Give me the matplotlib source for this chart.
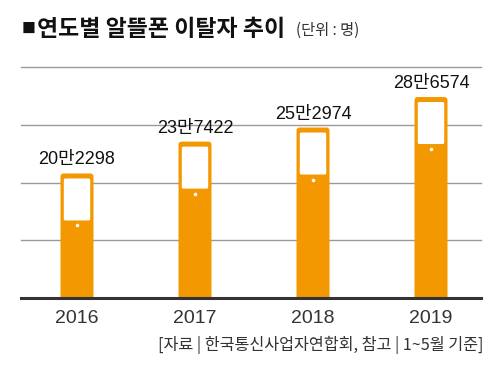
import matplotlib
matplotlib.use('Agg')
import matplotlib.pyplot as plt
from matplotlib.patches import FancyBboxPatch

plt.rcParams['font.family'] = ['Noto Sans CJK KR', 'DejaVu Sans']

# ---- data ----
years = ['2016', '2017', '2018', '2019']
values = [202298, 237422, 252974, 286574]
value_labels = ['20만2298', '23만7422', '25만2974', '28만6574']
title = '연도별 알뜰폰 이탈자 추이'
unit = '(단위 : 명)'
source = '[자료 | 한국통신사업자연합회, 참고 | 1~5월 기준]'

# ---- layout ----
W, H = 500, 370
fig = plt.figure(figsize=(W / 100, H / 100), dpi=100)
ax_l, ax_r, ax_t, ax_b = 21, 481, 67, 298
ax = fig.add_axes([ax_l / W, 1 - ax_b / H, (ax_r - ax_l) / W, (ax_b - ax_t) / H])

ymin, ymax = 65000, 319700
x0, x1 = -0.4746, 3.4237
ax.set_ylim(ymin, ymax)
ax.set_xlim(x0, x1)
px_y = (ymax - ymin) / (ax_b - ax_t)
px_x = (x1 - x0) / (ax_r - ax_l)

orange = '#F39800'
num_font = ['Liberation Sans', 'Noto Sans CJK KR']

for s in ax.spines.values():
    s.set_visible(False)
ax.set_yticks([])

# grid lines
for k in range(1, 5):
    ax.axhline(ymin + k * (ymax - ymin) / 4, color='#9a9a9a', lw=1.0, zorder=1, clip_on=False)
ax.axhline(ymin, color='#333333', lw=2.2, zorder=5, clip_on=False)

bw = 33 * px_x
for i, v in enumerate(values):
    body = FancyBboxPatch((i - bw / 2, ymin - 10 * px_y), bw, v - ymin + 10 * px_y,
                          boxstyle=f'round,pad=0,rounding_size={3 * px_x}',
                          mutation_aspect=px_y / px_x, fc=orange, ec='none', zorder=2)
    ax.add_patch(body)
    sw = bw - 6.6 * px_x
    screen = FancyBboxPatch((i - sw / 2, v - 47 * px_y), sw, 42 * px_y,
                            boxstyle=f'round,pad=0,rounding_size={1.5 * px_x}',
                            mutation_aspect=px_y / px_x, fc='white', ec='none', zorder=3)
    ax.add_patch(screen)
    ax.plot(i, v - 52 * px_y, 'o', ms=2.6, color='white', mec='none', zorder=4)
    ax.text(i, v + 9 * px_y, value_labels[i], ha='center', va='baseline',
            fontsize=13, color='#111111', zorder=6, family=num_font)

ax.set_xticks(range(len(years)))
ax.set_xticklabels(years, fontsize=14, color='#333333', family=num_font)
ax.tick_params(axis='x', length=0, pad=8.5)

# titles
fig.text(22 / W, 1 - 29 / H, '■', fontsize=10, va='center', ha='left', color='#111111')
fig.text(37 / W, 1 - 29 / H, title, fontsize=16.5, fontweight='bold', va='center', ha='left', color='#111111')
fig.text(296 / W, 1 - 30 / H, unit, fontsize=11, va='center', ha='left', color='#333333')
fig.text(484 / W, 1 - 345 / H, source, fontsize=11.7, va='center', ha='right', color='#333333')

fig.savefig('out.png', dpi=100)
